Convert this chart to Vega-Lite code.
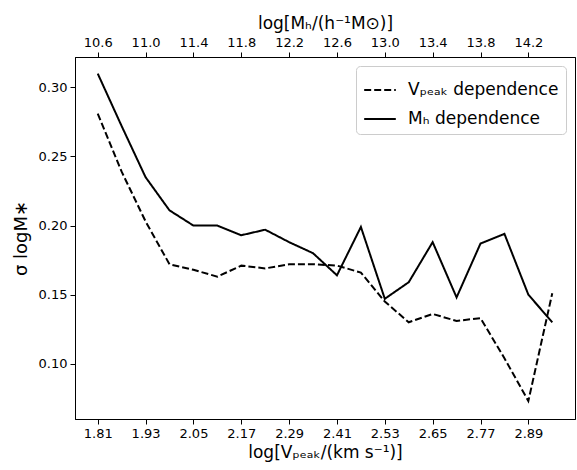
{
  "$schema": "https://vega.github.io/schema/vega-lite/v6.json",
  "width": 500,
  "height": 362,
  "autosize": {"type": "none"},
  "padding": {"left": 75, "top": 57, "right": 2, "bottom": 51},
  "background": "white",
  "config": {
    "view": {"stroke": "black", "strokeWidth": 1},
    "mark": {"color": "black"},
    "axis": {
      "domain": true, "domainColor": "black", "grid": false,
      "tickColor": "black", "tickSize": 5, "tickWidth": 1,
      "labelFont": "DejaVu Sans", "labelFontSize": 13, "labelColor": "black", "labelPadding": 3,
      "titleFont": "DejaVu Sans", "titleFontSize": 17, "titleFontWeight": "normal", "titleColor": "black", "titlePadding": 4
    },
    "legend": {
      "labelFont": "DejaVu Sans", "labelFontSize": 17, "labelColor": "black",
      "strokeColor": "#cccccc", "fillColor": "rgba(255,255,255,0.8)", "cornerRadius": 4,
      "padding": 7, "offset": 9, "rowPadding": 4,
      "symbolType": "stroke", "symbolSize": 1000, "symbolStrokeWidth": 2, "symbolStrokeColor": "black", "labelOffset": 11
    }
  },
  "data": {
    "values": [
      {"v": 1.81, "s": "Vₚₑₐₖ dependence", "sigma": 0.281},
      {"v": 1.87, "s": "Vₚₑₐₖ dependence", "sigma": 0.239},
      {"v": 1.93, "s": "Vₚₑₐₖ dependence", "sigma": 0.203},
      {"v": 1.99, "s": "Vₚₑₐₖ dependence", "sigma": 0.172},
      {"v": 2.05, "s": "Vₚₑₐₖ dependence", "sigma": 0.168},
      {"v": 2.11, "s": "Vₚₑₐₖ dependence", "sigma": 0.163},
      {"v": 2.17, "s": "Vₚₑₐₖ dependence", "sigma": 0.171},
      {"v": 2.23, "s": "Vₚₑₐₖ dependence", "sigma": 0.169},
      {"v": 2.29, "s": "Vₚₑₐₖ dependence", "sigma": 0.172},
      {"v": 2.35, "s": "Vₚₑₐₖ dependence", "sigma": 0.172},
      {"v": 2.41, "s": "Vₚₑₐₖ dependence", "sigma": 0.171},
      {"v": 2.47, "s": "Vₚₑₐₖ dependence", "sigma": 0.166},
      {"v": 2.53, "s": "Vₚₑₐₖ dependence", "sigma": 0.145},
      {"v": 2.59, "s": "Vₚₑₐₖ dependence", "sigma": 0.130},
      {"v": 2.65, "s": "Vₚₑₐₖ dependence", "sigma": 0.136},
      {"v": 2.71, "s": "Vₚₑₐₖ dependence", "sigma": 0.131},
      {"v": 2.77, "s": "Vₚₑₐₖ dependence", "sigma": 0.133},
      {"v": 2.83, "s": "Vₚₑₐₖ dependence", "sigma": 0.104},
      {"v": 2.89, "s": "Vₚₑₐₖ dependence", "sigma": 0.073},
      {"v": 2.95, "s": "Vₚₑₐₖ dependence", "sigma": 0.151},
      {"v": 1.81, "s": "Mₕ dependence", "sigma": 0.310},
      {"v": 1.87, "s": "Mₕ dependence", "sigma": 0.272},
      {"v": 1.93, "s": "Mₕ dependence", "sigma": 0.235},
      {"v": 1.99, "s": "Mₕ dependence", "sigma": 0.211},
      {"v": 2.05, "s": "Mₕ dependence", "sigma": 0.200},
      {"v": 2.11, "s": "Mₕ dependence", "sigma": 0.200},
      {"v": 2.17, "s": "Mₕ dependence", "sigma": 0.193},
      {"v": 2.23, "s": "Mₕ dependence", "sigma": 0.197},
      {"v": 2.29, "s": "Mₕ dependence", "sigma": 0.188},
      {"v": 2.35, "s": "Mₕ dependence", "sigma": 0.180},
      {"v": 2.41, "s": "Mₕ dependence", "sigma": 0.164},
      {"v": 2.47, "s": "Mₕ dependence", "sigma": 0.199},
      {"v": 2.53, "s": "Mₕ dependence", "sigma": 0.147},
      {"v": 2.59, "s": "Mₕ dependence", "sigma": 0.159},
      {"v": 2.65, "s": "Mₕ dependence", "sigma": 0.188},
      {"v": 2.71, "s": "Mₕ dependence", "sigma": 0.148},
      {"v": 2.77, "s": "Mₕ dependence", "sigma": 0.187},
      {"v": 2.83, "s": "Mₕ dependence", "sigma": 0.194},
      {"v": 2.89, "s": "Mₕ dependence", "sigma": 0.150},
      {"v": 2.95, "s": "Mₕ dependence", "sigma": 0.130}
    ]
  },
  "layer": [
    {
      "mark": {"type": "line", "strokeWidth": 2, "color": "black"},
      "encoding": {
        "x": {
          "field": "v", "type": "quantitative",
          "scale": {"domain": [1.753, 3.007], "nice": false, "zero": false},
          "axis": {
            "orient": "bottom",
            "values": [1.81, 1.93, 2.05, 2.17, 2.29, 2.41, 2.53, 2.65, 2.77, 2.89],
            "format": ".2f",
            "title": "log[Vₚₑₐₖ/(km s⁻¹)]"
          }
        },
        "y": {
          "field": "sigma", "type": "quantitative",
          "scale": {"domain": [0.060, 0.322], "nice": false, "zero": false},
          "axis": {
            "values": [0.10, 0.15, 0.20, 0.25, 0.30],
            "format": ".2f",
            "title": "σ logM∗",
            "titleFontSize": 18,
            "titlePadding": 8
          }
        },
        "strokeDash": {
          "field": "s", "type": "nominal",
          "scale": {"domain": ["Vₚₑₐₖ dependence", "Mₕ dependence"], "range": [[7, 3], [1, 0]]},
          "legend": {"title": null, "orient": "top-right"}
        }
      }
    },
    {
      "mark": {"type": "rule", "opacity": 0},
      "encoding": {
        "x": {
          "datum": 12.0, "type": "quantitative",
          "scale": {"domain": [10.41, 14.59], "nice": false, "zero": false},
          "axis": {
            "orient": "top",
            "values": [10.6, 11.0, 11.4, 11.8, 12.2, 12.6, 13.0, 13.4, 13.8, 14.2],
            "format": ".1f",
            "title": "log[Mₕ/(h⁻¹M⊙)]"
          }
        }
      }
    }
  ],
  "resolve": {"scale": {"x": "independent"}, "axis": {"x": "independent"}}
}
